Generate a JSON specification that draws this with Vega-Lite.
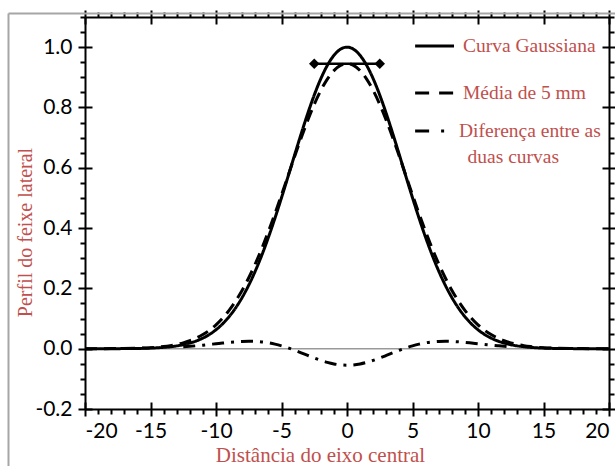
{
"$schema": "https://vega.github.io/schema/vega-lite/v6.json",
"width": 524, "height": 392,
"autosize": "none",
"padding": {"left": 85, "top": 17, "right": 6, "bottom": 57},
"background": "white",
"config": {"view": {"stroke": null}, "axis": {"grid": false, "domainColor": "black", "tickColor": "black", "domainWidth": 2, "tickWidth": 2, "labelColor": "black", "labelFont": "Lato", "labelFontSize": 21}},
"datasets": {
"curves": [
{"x":-20,"y":0,"c":"g"},{"x":-18,"y":0.0001,"c":"g"},{"x":-16,"y":0.0008,"c":"g"},{"x":-15,"y":0.002,"c":"g"},{"x":-14,"y":0.0044,"c":"g"},{"x":-13.5,"y":0.0064,"c":"g"},{"x":-13,"y":0.0093,"c":"g"},{"x":-12.5,"y":0.0132,"c":"g"},{"x":-12,"y":0.0186,"c":"g"},{"x":-11.5,"y":0.0257,"c":"g"},{"x":-11,"y":0.0351,"c":"g"},{"x":-10.5,"y":0.0473,"c":"g"},{"x":-10,"y":0.0628,"c":"g"},{"x":-9.5,"y":0.0823,"c":"g"},{"x":-9,"y":0.1062,"c":"g"},{"x":-8.5,"y":0.1353,"c":"g"},{"x":-8,"y":0.1701,"c":"g"},{"x":-7.5,"y":0.2108,"c":"g"},{"x":-7,"y":0.2576,"c":"g"},{"x":-6.5,"y":0.3105,"c":"g"},{"x":-6,"y":0.3692,"c":"g"},{"x":-5.5,"y":0.4329,"c":"g"},{"x":-5,"y":0.5006,"c":"g"},{"x":-4.5,"y":0.5709,"c":"g"},{"x":-4,"y":0.6422,"c":"g"},{"x":-3.5,"y":0.7124,"c":"g"},{"x":-3,"y":0.7795,"c":"g"},{"x":-2.5,"y":0.8411,"c":"g"},{"x":-2,"y":0.8952,"c":"g"},{"x":-1.5,"y":0.9396,"c":"g"},{"x":-1,"y":0.9727,"c":"g"},{"x":-0.5,"y":0.9931,"c":"g"},{"x":0,"y":1,"c":"g"},
{"x":20,"y":0,"c":"g"},{"x":18,"y":0.0001,"c":"g"},{"x":16,"y":0.0008,"c":"g"},{"x":15,"y":0.002,"c":"g"},{"x":14,"y":0.0044,"c":"g"},{"x":13.5,"y":0.0064,"c":"g"},{"x":13,"y":0.0093,"c":"g"},{"x":12.5,"y":0.0132,"c":"g"},{"x":12,"y":0.0186,"c":"g"},{"x":11.5,"y":0.0257,"c":"g"},{"x":11,"y":0.0351,"c":"g"},{"x":10.5,"y":0.0473,"c":"g"},{"x":10,"y":0.0628,"c":"g"},{"x":9.5,"y":0.0823,"c":"g"},{"x":9,"y":0.1062,"c":"g"},{"x":8.5,"y":0.1353,"c":"g"},{"x":8,"y":0.1701,"c":"g"},{"x":7.5,"y":0.2108,"c":"g"},{"x":7,"y":0.2576,"c":"g"},{"x":6.5,"y":0.3105,"c":"g"},{"x":6,"y":0.3692,"c":"g"},{"x":5.5,"y":0.4329,"c":"g"},{"x":5,"y":0.5006,"c":"g"},{"x":4.5,"y":0.5709,"c":"g"},{"x":4,"y":0.6422,"c":"g"},{"x":3.5,"y":0.7124,"c":"g"},{"x":3,"y":0.7795,"c":"g"},{"x":2.5,"y":0.8411,"c":"g"},{"x":2,"y":0.8952,"c":"g"},{"x":1.5,"y":0.9396,"c":"g"},{"x":1,"y":0.9727,"c":"g"},{"x":0.5,"y":0.9931,"c":"g"},
{"x":-20,"y":0.0001,"c":"m"},{"x":-18,"y":0.0003,"c":"m"},{"x":-16,"y":0.0016,"c":"m"},{"x":-15,"y":0.0034,"c":"m"},{"x":-14,"y":0.0071,"c":"m"},{"x":-13.5,"y":0.0101,"c":"m"},{"x":-13,"y":0.0141,"c":"m"},{"x":-12.5,"y":0.0194,"c":"m"},{"x":-12,"y":0.0264,"c":"m"},{"x":-11.5,"y":0.0354,"c":"m"},{"x":-11,"y":0.0469,"c":"m"},{"x":-10.5,"y":0.0613,"c":"m"},{"x":-10,"y":0.0792,"c":"m"},{"x":-9.5,"y":0.101,"c":"m"},{"x":-9,"y":0.1272,"c":"m"},{"x":-8.5,"y":0.1581,"c":"m"},{"x":-8,"y":0.194,"c":"m"},{"x":-7.5,"y":0.2352,"c":"m"},{"x":-7,"y":0.2815,"c":"m"},{"x":-6.5,"y":0.3328,"c":"m"},{"x":-6,"y":0.3885,"c":"m"},{"x":-5.5,"y":0.4479,"c":"m"},{"x":-5,"y":0.5101,"c":"m"},{"x":-4.5,"y":0.5736,"c":"m"},{"x":-4,"y":0.637,"c":"m"},{"x":-3.5,"y":0.6988,"c":"m"},{"x":-3,"y":0.7571,"c":"m"},{"x":-2.5,"y":0.8103,"c":"m"},{"x":-2,"y":0.8565,"c":"m"},{"x":-1.5,"y":0.8942,"c":"m"},{"x":-1,"y":0.9222,"c":"m"},{"x":-0.5,"y":0.9394,"c":"m"},{"x":0,"y":0.9452,"c":"m"},
{"x":20,"y":0.0001,"c":"m"},{"x":18,"y":0.0003,"c":"m"},{"x":16,"y":0.0016,"c":"m"},{"x":15,"y":0.0034,"c":"m"},{"x":14,"y":0.0071,"c":"m"},{"x":13.5,"y":0.0101,"c":"m"},{"x":13,"y":0.0141,"c":"m"},{"x":12.5,"y":0.0194,"c":"m"},{"x":12,"y":0.0264,"c":"m"},{"x":11.5,"y":0.0354,"c":"m"},{"x":11,"y":0.0469,"c":"m"},{"x":10.5,"y":0.0613,"c":"m"},{"x":10,"y":0.0792,"c":"m"},{"x":9.5,"y":0.101,"c":"m"},{"x":9,"y":0.1272,"c":"m"},{"x":8.5,"y":0.1581,"c":"m"},{"x":8,"y":0.194,"c":"m"},{"x":7.5,"y":0.2352,"c":"m"},{"x":7,"y":0.2815,"c":"m"},{"x":6.5,"y":0.3328,"c":"m"},{"x":6,"y":0.3885,"c":"m"},{"x":5.5,"y":0.4479,"c":"m"},{"x":5,"y":0.5101,"c":"m"},{"x":4.5,"y":0.5736,"c":"m"},{"x":4,"y":0.637,"c":"m"},{"x":3.5,"y":0.6988,"c":"m"},{"x":3,"y":0.7571,"c":"m"},{"x":2.5,"y":0.8103,"c":"m"},{"x":2,"y":0.8565,"c":"m"},{"x":1.5,"y":0.8942,"c":"m"},{"x":1,"y":0.9222,"c":"m"},{"x":0.5,"y":0.9394,"c":"m"},
{"x":-12.5,"y":0.0062,"c":"d"},{"x":-12,"y":0.0078,"c":"d"},{"x":-11.5,"y":0.0097,"c":"d"},{"x":-11,"y":0.0118,"c":"d"},{"x":-10.5,"y":0.0141,"c":"d"},{"x":-10,"y":0.0164,"c":"d"},{"x":-9.5,"y":0.0187,"c":"d"},{"x":-9,"y":0.0209,"c":"d"},{"x":-8.5,"y":0.0227,"c":"d"},{"x":-8,"y":0.024,"c":"d"},{"x":-7.5,"y":0.0245,"c":"d"},{"x":-7,"y":0.024,"c":"d"},{"x":-6.5,"y":0.0223,"c":"d"},{"x":-6,"y":0.0194,"c":"d"},{"x":-5.5,"y":0.0151,"c":"d"},{"x":-5,"y":0.0095,"c":"d"},{"x":-4.5,"y":0.0027,"c":"d"},{"x":-4,"y":-0.0052,"c":"d"},{"x":-3.5,"y":-0.0136,"c":"d"},{"x":-3,"y":-0.0224,"c":"d"},{"x":-2.5,"y":-0.0309,"c":"d"},{"x":-2,"y":-0.0387,"c":"d"},{"x":-1.5,"y":-0.0454,"c":"d"},{"x":-1,"y":-0.0505,"c":"d"},{"x":-0.5,"y":-0.0537,"c":"d"},{"x":0,"y":-0.0548,"c":"d"},
{"x":12.5,"y":0.0062,"c":"d"},{"x":12,"y":0.0078,"c":"d"},{"x":11.5,"y":0.0097,"c":"d"},{"x":11,"y":0.0118,"c":"d"},{"x":10.5,"y":0.0141,"c":"d"},{"x":10,"y":0.0164,"c":"d"},{"x":9.5,"y":0.0187,"c":"d"},{"x":9,"y":0.0209,"c":"d"},{"x":8.5,"y":0.0227,"c":"d"},{"x":8,"y":0.024,"c":"d"},{"x":7.5,"y":0.0245,"c":"d"},{"x":7,"y":0.024,"c":"d"},{"x":6.5,"y":0.0223,"c":"d"},{"x":6,"y":0.0194,"c":"d"},{"x":5.5,"y":0.0151,"c":"d"},{"x":5,"y":0.0095,"c":"d"},{"x":4.5,"y":0.0027,"c":"d"},{"x":4,"y":-0.0052,"c":"d"},{"x":3.5,"y":-0.0136,"c":"d"},{"x":3,"y":-0.0224,"c":"d"},{"x":2.5,"y":-0.0309,"c":"d"},{"x":2,"y":-0.0387,"c":"d"},{"x":1.5,"y":-0.0454,"c":"d"},{"x":1,"y":-0.0505,"c":"d"},{"x":0.5,"y":-0.0537,"c":"d"}
],
"window": [{"x":-2.5,"y":0.945},{"x":2.5,"y":0.945}],
"one": [{}]
},
"resolve": {"axis": {"x": "independent", "y": "independent"}},
"layer": [
{
"data": {"name": "one"},
"mark": {"type": "rule", "color": "#a6a6a6", "strokeWidth": 2},
"encoding": {
"x": {"datum": -25.84, "type": "quantitative", "scale": {"domain": [-20, 20], "nice": false, "zero": false}, "axis": null},
"y": {"datum": 1.1116, "type": "quantitative", "scale": {"domain": [-0.2, 1.1], "nice": false, "zero": false}, "axis": null},
"y2": {"datum": -0.41}
}
},
{
"data": {"name": "one"},
"mark": {"type": "rule", "color": "#a6a6a6", "strokeWidth": 2},
"encoding": {
"x": {"datum": -25.84, "type": "quantitative", "scale": {"domain": [-20, 20], "nice": false, "zero": false}, "axis": null},
"x2": {"datum": 21},
"y": {"datum": 1.1116, "type": "quantitative", "scale": {"domain": [-0.2, 1.1], "nice": false, "zero": false}, "axis": null}
}
},
{
"data": {"name": "one"},
"mark": {"type": "rule", "color": "#999999", "strokeWidth": 1.5},
"encoding": {
"x": {"datum": -20, "type": "quantitative", "scale": {"domain": [-20, 20], "nice": false, "zero": false},
 "axis": {"orient": "bottom", "values": [-20,-15,-10,-5,0,5,10,15,20], "tickSize": -7, "labels": false, "domain": false, "title": null}},
"x2": {"datum": 20},
"y": {"datum": 0, "type": "quantitative", "scale": {"domain": [-0.2, 1.1], "nice": false, "zero": false},
 "axis": {"orient": "left", "values": [-0.2,0,0.2,0.4,0.6,0.8,1.0], "tickSize": -7, "labels": false, "domain": false, "title": null}}
}
},
{
"data": {"name": "curves"},
"mark": {"type": "line", "color": "black", "strokeWidth": 3, "interpolate": "monotone"},
"encoding": {
"x": {"field": "x", "type": "quantitative", "scale": {"domain": [-20, 20], "nice": false, "zero": false},
 "axis": {"orient": "bottom", "values": [-20,-15,-10,-5,0,5,10,15,20], "tickSize": 7, "labelPadding": 4,
  "labelExpr": "replace(format(datum.value, 'd'), '\u2212', '-')",
  "title": "Distância do eixo central", "titleFont": "Liberation Serif", "titleFontSize": 21, "titleFontWeight": "normal", "titleColor": "#c0504d",
  "titleX": 235, "titleY": 46, "titleBaseline": "middle", "titleAlign": "center"}},
"y": {"field": "y", "type": "quantitative", "scale": {"domain": [-0.2, 1.1], "nice": false, "zero": false},
 "axis": {"orient": "left", "values": [-0.2,0,0.2,0.4,0.6,0.8,1.0], "tickSize": 7, "labelPadding": 6,
  "labelExpr": "replace(format(datum.value, '.1f'), '\u2212', '-')",
  "title": "Perfil do feixe lateral", "titleFont": "Liberation Serif", "titleFontSize": 20, "titleFontWeight": "normal", "titleColor": "#c0504d",
  "titleX": -60, "titleY": 215, "titleBaseline": "middle", "titleAlign": "center", "titleAngle": -90}},
"strokeDash": {"field": "c", "type": "nominal", "scale": {"domain": ["g","m","d"], "range": [[1,0],[12,7],[12,7,3,7]]}, "legend": null},
"detail": {"field": "c"}
}
},
{
"data": {"name": "window"},
"mark": {"type": "line", "color": "black", "strokeWidth": 2.5},
"encoding": {
"x": {"field": "x", "type": "quantitative", "scale": {"domain": [-20, 20], "nice": false, "zero": false},
 "axis": {"orient": "bottom", "values": [-19,-18,-17,-16,-14,-13,-12,-11,-9,-8,-7,-6,-4,-3,-2,-1,1,2,3,4,6,7,8,9,11,12,13,14,16,17,18,19], "tickSize": 5, "labels": false, "domain": false, "title": null}},
"y": {"field": "y", "type": "quantitative", "scale": {"domain": [-0.2, 1.1], "nice": false, "zero": false},
 "axis": {"orient": "left", "values": [-0.15,-0.1,-0.05,0.05,0.1,0.15,0.25,0.3,0.35,0.45,0.5,0.55,0.65,0.7,0.75,0.85,0.9,0.95,1.05,1.1], "tickSize": 5, "labels": false, "domain": false, "title": null}}
}
},
{
"data": {"name": "window"},
"mark": {"type": "point", "shape": "diamond", "filled": true, "color": "black", "size": 110, "opacity": 1},
"encoding": {
"x": {"field": "x", "type": "quantitative", "scale": {"domain": [-20, 20], "nice": false, "zero": false},
 "axis": {"orient": "top", "values": [-20,-15,-10,-5,0,5,10,15,20], "tickSize": 7, "labels": false, "title": null}},
"y": {"field": "y", "type": "quantitative", "scale": {"domain": [-0.2, 1.1], "nice": false, "zero": false},
 "axis": {"orient": "right", "values": [-0.2,0,0.2,0.4,0.6,0.8,1.0], "tickSize": 7, "labels": false, "title": null}}
}
},
{
"data": {"name": "one"},
"mark": {"type": "rule", "color": "black", "strokeWidth": 3},
"encoding": {
"x": {"datum": 5.2, "type": "quantitative", "scale": {"domain": [-20, 20], "nice": false, "zero": false},
 "axis": {"orient": "top", "values": [-20,-15,-10,-5,0,5,10,15,20], "tickSize": -7, "labels": false, "domain": false, "title": null}},
"x2": {"datum": 8.17},
"y": {"datum": 1.004, "type": "quantitative", "scale": {"domain": [-0.2, 1.1], "nice": false, "zero": false},
 "axis": {"orient": "right", "values": [-0.2,0,0.2,0.4,0.6,0.8,1.0], "tickSize": -7, "labels": false, "domain": false, "title": null}}
}
},
{
"data": {"name": "one"},
"mark": {"type": "rule", "color": "black", "strokeWidth": 3, "strokeDash": [14, 10]},
"encoding": {
"x": {"datum": 5.2, "type": "quantitative", "scale": {"domain": [-20, 20], "nice": false, "zero": false},
 "axis": {"orient": "top", "values": [-19,-18,-17,-16,-14,-13,-12,-11,-9,-8,-7,-6,-4,-3,-2,-1,1,2,3,4,6,7,8,9,11,12,13,14,16,17,18,19], "tickSize": 5, "labels": false, "domain": false, "title": null}},
"x2": {"datum": 8.17},
"y": {"datum": 0.848, "type": "quantitative", "scale": {"domain": [-0.2, 1.1], "nice": false, "zero": false},
 "axis": {"orient": "right", "values": [-0.15,-0.1,-0.05,0.05,0.1,0.15,0.25,0.3,0.35,0.45,0.5,0.55,0.65,0.7,0.75,0.85,0.9,0.95,1.05,1.1], "tickSize": 5, "labels": false, "domain": false, "title": null}}
}
},
{
"data": {"name": "one"},
"mark": {"type": "rule", "color": "black", "strokeWidth": 3, "strokeDash": [14, 12, 3, 20]},
"encoding": {
"x": {"datum": 5.2, "type": "quantitative", "scale": {"domain": [-20, 20], "nice": false, "zero": false}, "axis": null},
"x2": {"datum": 8.17},
"y": {"datum": 0.722, "type": "quantitative", "scale": {"domain": [-0.2, 1.1], "nice": false, "zero": false}, "axis": null}
}
},
{
"data": {"name": "one"},
"mark": {"type": "text", "text": "Curva Gaussiana", "font": "Liberation Serif", "fontSize": 19.5, "color": "#c0504d", "align": "left", "baseline": "middle"},
"encoding": {
"x": {"datum": 8.85, "type": "quantitative", "scale": {"domain": [-20, 20], "nice": false, "zero": false}, "axis": null},
"y": {"datum": 1.004, "type": "quantitative", "scale": {"domain": [-0.2, 1.1], "nice": false, "zero": false}, "axis": null}
}
},
{
"data": {"name": "one"},
"mark": {"type": "text", "text": "Média de 5 mm", "font": "Liberation Serif", "fontSize": 19.5, "color": "#c0504d", "align": "left", "baseline": "middle"},
"encoding": {
"x": {"datum": 8.85, "type": "quantitative", "scale": {"domain": [-20, 20], "nice": false, "zero": false}, "axis": null},
"y": {"datum": 0.848, "type": "quantitative", "scale": {"domain": [-0.2, 1.1], "nice": false, "zero": false}, "axis": null}
}
},
{
"data": {"name": "one"},
"mark": {"type": "text", "text": "Diferença entre as", "font": "Liberation Serif", "fontSize": 19.5, "color": "#c0504d", "align": "left", "baseline": "middle"},
"encoding": {
"x": {"datum": 8.55, "type": "quantitative", "scale": {"domain": [-20, 20], "nice": false, "zero": false}, "axis": null},
"y": {"datum": 0.722, "type": "quantitative", "scale": {"domain": [-0.2, 1.1], "nice": false, "zero": false}, "axis": null}
}
},
{
"data": {"name": "one"},
"mark": {"type": "text", "text": "duas curvas", "font": "Liberation Serif", "fontSize": 19.5, "color": "#c0504d", "align": "left", "baseline": "middle"},
"encoding": {
"x": {"datum": 9.2, "type": "quantitative", "scale": {"domain": [-20, 20], "nice": false, "zero": false}, "axis": null},
"y": {"datum": 0.636, "type": "quantitative", "scale": {"domain": [-0.2, 1.1], "nice": false, "zero": false}, "axis": null}
}
}
]
}
